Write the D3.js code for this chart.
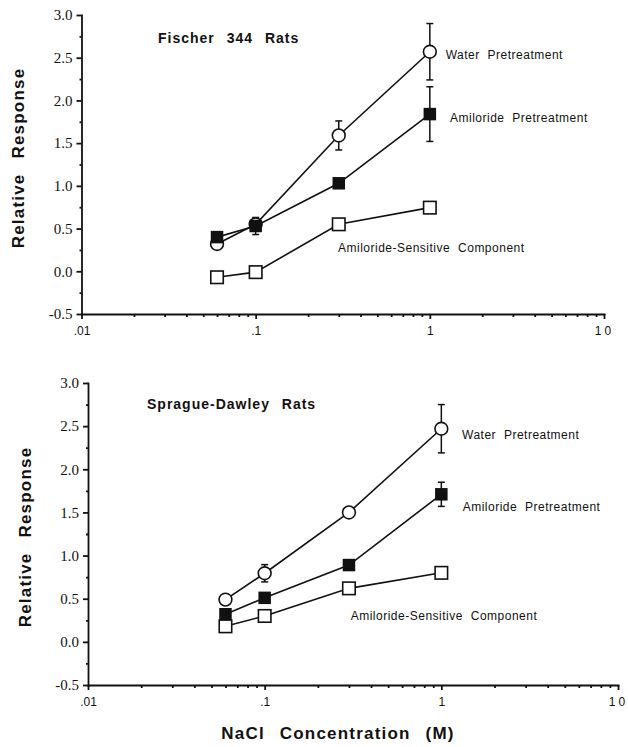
<!DOCTYPE html>
<html>
<head>
<meta charset="utf-8">
<script src="https://cdn.jsdelivr.net/npm/d3@7"></script>
<style>
  html, body { margin: 0; padding: 0; background: #fff; }
  svg { display: block; }
  .ylab text { font-family: "Liberation Serif", "Times New Roman", serif; font-size: 15px; fill: #111; }
  .xlab text { font-family: "Liberation Sans", Arial, sans-serif; font-size: 12px; fill: #111; }
  .axis path, .axis line { stroke: #111; stroke-width: 1.8; }
  .note { font-family: "Liberation Sans", Arial, sans-serif; font-size: 12px; letter-spacing: 0.5px; word-spacing: 4px; fill: #111; }
  .ptitle { font-family: "Liberation Sans", Arial, sans-serif; font-size: 14px; font-weight: bold; letter-spacing: 1px; word-spacing: 7px; fill: #111; }
  .atitle { font-family: "Liberation Sans", Arial, sans-serif; font-size: 17px; font-weight: bold; letter-spacing: 1.2px; word-spacing: 9px; fill: #111; }
</style>
</head>
<body>
<script>
// NaCl concentrations (M)
const concentrations = [0.06, 0.1, 0.3, 1.0];

// Fischer 344 rats: relative response and error (SEM)
const fischerWater      = [0.32, 0.55, 1.59, 2.57];
const fischerWaterErr   = [0, 0, 0.17, 0.33];
const fischerAmil       = [0.40, 0.53, 1.03, 1.84];
const fischerAmilErr    = [0, 0.10, 0.03, 0.32];
const fischerSensitive  = [-0.07, -0.01, 0.55, 0.745];

// Sprague-Dawley rats
const sdWater      = [0.49, 0.795, 1.50, 2.47];
const sdWaterErr   = [0, 0.10, 0, 0.28];
const sdAmil       = [0.32, 0.51, 0.89, 1.71];
const sdAmilErr    = [0.05, 0, 0.03, 0.14];
const sdSensitive  = [0.18, 0.30, 0.62, 0.80];

// axis ticks
const yTicks = [-0.5, 0.0, 0.5, 1.0, 1.5, 2.0, 2.5, 3.0];
const xTicks = [0.01, 0.1, 1, 10];
const xTickLabels = [".01", ".1", "1", "10"];

const W = 628, H = 747;
const svg = d3.select("body").append("svg").attr("width", W).attr("height", H);

const panels = [
  {
    title: "Fischer 344 Rats",
    water: fischerWater, waterErr: fischerWaterErr,
    amil: fischerAmil, amilErr: fischerAmilErr,
    sens: fischerSensitive,
    box: { left: 81.5, right: 604, top: 15, bottom: 314 },
    titlePos: [158, 43],
    yLabelPos: [18, 158],
    notes: [[445.7, 59], [450, 122], [338, 252]]
  },
  {
    title: "Sprague-Dawley Rats",
    water: sdWater, waterErr: sdWaterErr,
    amil: sdAmil, amilErr: sdAmilErr,
    sens: sdSensitive,
    box: { left: 88, right: 618, top: 383, bottom: 685 },
    titlePos: [147, 409],
    yLabelPos: [25, 537],
    notes: [[462, 439], [462.7, 511], [350.7, 620]]
  }
];

const noteTexts = ["Water Pretreatment", "Amiloride Pretreatment", "Amiloride-Sensitive Component"];

// minor ticks
const yMinor = d3.range(-0.25, 3.0, 0.5);
const xMinor = [];
[0.01, 0.1, 1].forEach(d => { for (let k = 2; k <= 9; k++) xMinor.push(d * k); });

panels.forEach(p => {
  const x = d3.scaleLog().domain([0.01, 10]).range([p.box.left, p.box.right]);
  const y = d3.scaleLinear().domain([-0.5, 3.0]).range([p.box.bottom, p.box.top]);
  const g = svg.append("g");

  // y axis (plain hyphen for negative values)
  g.append("g").attr("class", "axis ylab")
    .attr("transform", `translate(${p.box.left},0)`)
    .call(d3.axisLeft(y).tickValues(yTicks).tickFormat(d => d.toFixed(1))
      .tickSize(5).tickSizeOuter(0).tickPadding(4));
  g.append("g").attr("class", "axis")
    .attr("transform", `translate(${p.box.left},0)`)
    .call(d3.axisLeft(y).tickValues(yMinor).tickFormat("").tickSize(2).tickSizeOuter(0))
    .select(".domain").remove();

  // x axis
  g.append("g").attr("class", "axis xlab")
    .attr("transform", `translate(0,${p.box.bottom})`)
    .call(d3.axisBottom(x).tickValues(xTicks)
      .tickFormat((d, i) => xTickLabels[i]).tickSize(5).tickSizeOuter(0).tickPadding(7));
  g.selectAll(".xlab .tick text").filter(d => d === 10).style("letter-spacing", "3px");
  g.append("g").attr("class", "axis")
    .attr("transform", `translate(0,${p.box.bottom})`)
    .call(d3.axisBottom(x).tickValues(xMinor).tickFormat("").tickSize(3).tickSizeOuter(0))
    .select(".domain").remove();

  g.selectAll(".axis .domain").attr("stroke-linecap", "square");

  const line = d3.line().x((d, i) => x(concentrations[i])).y(d => y(d));

  // connecting lines
  [p.water, p.amil, p.sens].forEach(s => {
    g.append("path").datum(s).attr("d", line)
      .attr("fill", "none").attr("stroke", "#111").attr("stroke-width", 1.6);
  });

  // error bars
  const drawErr = (vals, errs) => {
    vals.forEach((v, i) => {
      const e = errs[i];
      if (!e) return;
      const cx = x(concentrations[i]);
      const y1 = y(v + e), y2 = y(v - e);
      g.append("line").attr("x1", cx).attr("x2", cx).attr("y1", y1).attr("y2", y2)
        .attr("stroke", "#111").attr("stroke-width", 1.5);
      [y1, y2].forEach(yy => g.append("line")
        .attr("x1", cx - 3.5).attr("x2", cx + 3.5).attr("y1", yy).attr("y2", yy)
        .attr("stroke", "#111").attr("stroke-width", 1.5));
    });
  };
  drawErr(p.water, p.waterErr);
  drawErr(p.amil, p.amilErr);

  // markers: open circles, filled squares, open squares
  g.selectAll(null).data(p.water).enter().append("circle")
    .attr("cx", (d, i) => x(concentrations[i])).attr("cy", d => y(d)).attr("r", 6.4)
    .attr("fill", "#fff").attr("stroke", "#111").attr("stroke-width", 1.6);
  const sq = 12.5;
  g.selectAll(null).data(p.amil).enter().append("rect")
    .attr("x", (d, i) => x(concentrations[i]) - sq / 2).attr("y", d => y(d) - sq / 2)
    .attr("width", sq).attr("height", sq).attr("fill", "#111");
  g.selectAll(null).data(p.sens).enter().append("rect")
    .attr("x", (d, i) => x(concentrations[i]) - sq / 2).attr("y", d => y(d) - sq / 2)
    .attr("width", sq).attr("height", sq)
    .attr("fill", "#fff").attr("stroke", "#111").attr("stroke-width", 1.6);

  // series notes
  p.notes.forEach((pos, i) => {
    g.append("text").attr("class", "note").attr("x", pos[0]).attr("y", pos[1]).text(noteTexts[i]);
  });

  // panel title
  g.append("text").attr("class", "ptitle").attr("x", p.titlePos[0]).attr("y", p.titlePos[1]).text(p.title);

  // y axis title
  g.append("text").attr("class", "atitle")
    .attr("transform", `translate(${p.yLabelPos[0] + 6},${p.yLabelPos[1]}) rotate(-90)`)
    .attr("text-anchor", "middle").text("Relative Response");
});

// x axis title
svg.append("text").attr("class", "atitle")
  .attr("x", 338).attr("y", 739).attr("text-anchor", "middle")
  .text("NaCl Concentration (M)");
</script>
</body>
</html>
